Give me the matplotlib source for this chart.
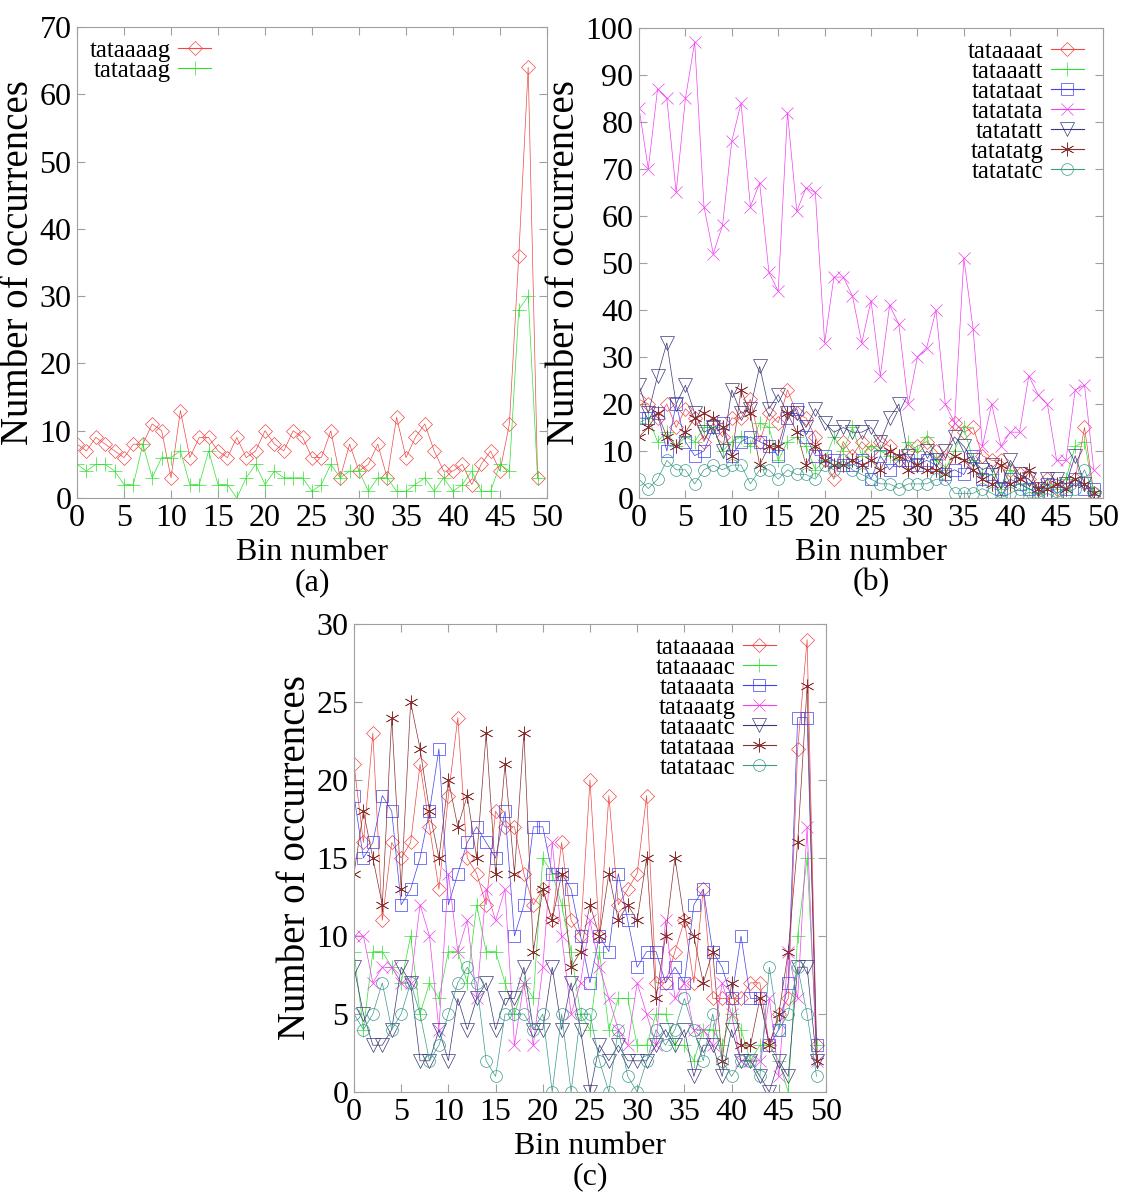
import numpy as np
import matplotlib
matplotlib.use("Agg")
import matplotlib.pyplot as plt

plt.rcParams["font.family"] = ["Liberation Serif", "DejaVu Serif"]

# panel (a)
a_labels = ["tataaaag", "tatataag"]
a_tataaaag = [8, 7, 9, 8, 7, 6, 8, 8, 11, 10, 3, 13, 6, 9, 9, 7, 6, 9, 6, 7,
              10, 8, 7, 10, 9, 6, 6, 10, 3, 8, 4, 5, 8, 3, 12, 6, 9, 11, 7, 4,
              4, 5, 2, 5, 7, 4, 11, 36, 64, 3]
a_tatataag = [5, 4, 5, 5, 4, 2, 2, 8, 3, 6, 6, 7, 2, 2, 7, 2, 2, 0, 3, 5,
              2, 4, 3, 3, 3, 1, 2, 5, 3, 4, 4, 1, 3, 3, 1, 1, 2, 3, 1, 3,
              1, 2, 4, 1, 1, 5, 4, 28, 30, 3]

# panel (b)
b_labels = ["tataaaat", "tataaatt", "tatataat", "tatatata", "tatatatt", "tatatatg", "tatatatc"]
b_tataaaat = [21, 20, 17, 20, 15, 19, 17, 12, 16, 13, 17, 17, 21, 12, 18, 16, 23, 18, 17, 13,
              8, 4, 12, 9, 12, 10, 12, 11, 8, 10, 11, 12, 10, 8, 16, 14, 15, 9, 8, 8,
              6, 5, 4, 2, 4, 2, 3, 4, 15, 1]
b_tataaatt = [16, 17, 12, 14, 11, 13, 12, 15, 15, 10, 12, 13, 11, 16, 15, 8, 12, 13, 11, 6,
              8, 13, 10, 15, 9, 11, 10, 9, 8, 12, 10, 13, 8, 6, 10, 15, 8, 5, 5, 2,
              6, 3, 2, 1, 3, 2, 4, 11, 12, 1]
b_tatataat = [17, 17, 18, 10, 20, 12, 9, 10, 15, 16, 9, 12, 13, 12, 11, 9, 17, 19, 13, 9,
              9, 8, 7, 7, 8, 4, 9, 6, 8, 8, 7, 8, 7, 5, 6, 5, 9, 4, 5, 2,
              4, 3, 2, 1, 3, 1, 2, 4, 2, 2]
b_tatatata = [83, 70, 87, 85, 65, 85, 97, 62, 52, 58, 76, 84, 62, 67, 48, 44, 82, 61, 66, 65,
              33, 47, 47, 43, 33, 42, 26, 41, 37, 20, 30, 32, 40, 20, 16, 51, 36, 11, 20, 11,
              14, 14, 26, 22, 20, 8, 8, 23, 24, 6]
b_tatatatt = [24, 18, 26, 33, 20, 24, 18, 14, 15, 10, 23, 18, 19, 28, 19, 22, 18, 18, 15, 19,
              16, 14, 15, 14, 14, 15, 12, 17, 20, 9, 7, 10, 8, 10, 13, 11, 8, 6, 7, 2,
              8, 5, 4, 2, 4, 4, 3, 9, 3, 0]
b_tatatatg = [13, 15, 18, 13, 11, 14, 17, 18, 17, 15, 9, 23, 18, 7, 11, 11, 18, 14, 7, 11,
              8, 7, 7, 8, 7, 8, 6, 10, 9, 6, 7, 6, 6, 5, 9, 8, 6, 4, 3, 7,
              3, 4, 6, 2, 2, 3, 2, 4, 3, 1]
b_tatatatc = [4, 2, 4, 8, 6, 6, 3, 6, 7, 6, 7, 7, 3, 6, 6, 4, 6, 5, 5, 4,
              7, 6, 8, 6, 5, 4, 3, 3, 2, 3, 3, 3, 4, 4, 1, 1, 1, 2, 1, 0,
              1, 2, 0, 0, 1, 0, 1, 2, 6, 1]

# panel (c)
c_labels = ["tataaaaa", "tataaaac", "tataaata", "tataaatg", "tataaatc", "tatataaa", "tatataac"]
c_tataaaaa = [21, 16, 23, 11, 16, 15, 16, 21, 17, 13, 19, 24, 15, 14, 12, 18, 17, 17, 14, 12,
              13, 11, 16, 11, 10, 20, 10, 19, 12, 13, 14, 19, 7, 7, 9, 11, 7, 13, 6, 6,
              6, 6, 7, 7, 3, 5, 6, 22, 29, 3]
c_tataaaac = [9, 4, 9, 9, 8, 7, 10, 5, 7, 6, 9, 9, 7, 12, 9, 9, 7, 5, 7, 6,
              15, 14, 12, 9, 5, 4, 9, 4, 6, 6, 3, 3, 5, 5, 3, 3, 2, 4, 4, 3,
              5, 4, 2, 3, 3, 2, 0, 10, 15, 3]
c_tataaata = [19, 15, 16, 19, 18, 12, 13, 15, 18, 22, 12, 14, 16, 17, 16, 15, 18, 10, 12, 17,
              17, 14, 14, 13, 10, 7, 10, 9, 14, 11, 8, 9, 9, 7, 8, 7, 12, 13, 9, 8,
              6, 10, 6, 6, 3, 4, 7, 24, 24, 3]
c_tataaatg = [10, 10, 7, 8, 8, 7, 7, 12, 10, 4, 14, 9, 11, 6, 13, 11, 13, 3, 7, 3,
              8, 16, 10, 5, 7, 11, 8, 6, 4, 3, 7, 5, 3, 11, 6, 7, 4, 4, 3, 7,
              5, 2, 2, 2, 6, 1, 9, 6, 17, 2]
c_tataaatc = [8, 5, 3, 3, 4, 8, 7, 2, 2, 4, 2, 6, 4, 6, 7, 4, 6, 6, 8, 4,
              4, 8, 4, 7, 4, 0, 3, 2, 3, 2, 2, 2, 3, 4, 3, 4, 1, 3, 3, 1,
              4, 2, 2, 1, 0, 2, 1, 8, 8, 2]
c_tatataaa = [14, 18, 15, 12, 24, 13, 25, 22, 18, 15, 20, 17, 19, 15, 23, 14, 21, 14, 23, 9,
              13, 11, 14, 8, 9, 12, 10, 14, 11, 12, 11, 15, 6, 10, 15, 11, 10, 7, 9, 2,
              7, 3, 3, 6, 3, 5, 9, 16, 26, 2]
c_tatataac = [5, 4, 5, 7, 4, 5, 7, 5, 2, 3, 5, 7, 8, 7, 2, 1, 5, 5, 5, 4,
              5, 0, 5, 0, 5, 5, 2, 0, 4, 1, 0, 2, 4, 3, 4, 6, 4, 2, 5, 2,
              1, 2, 2, 1, 8, 4, 5, 8, 5, 1]

# gnuplot-ish line types
styles = [
    dict(color="#f04848", marker="D", ms=7.5, mfc="none"),
    dict(color="#30e030", marker="+", ms=10),
    dict(color="#4040f0", marker="s", ms=8.5, mfc="none"),
    dict(color="#f040f0", marker="x", ms=9),
    dict(color="#383878", marker="v", ms=10, mfc="none"),
    dict(color="#8a3030", marker=(6, 2, 0), ms=10),
    dict(color="#3a9a8a", marker="o", ms=8.5, mfc="none"),
]


def panel(ax, series, labels, ymax, ystep, legend_loc, anchor, tag):
    for i, (y, lab) in enumerate(zip(series, labels)):
        st = styles[i]
        ax.plot(range(len(y)), y, label=lab, lw=0.5, mew=0.5, **st)
    ax.set_xlim(0, 50)
    ax.set_ylim(0, ymax)
    ax.set_xticks(range(0, 51, 5))
    ax.set_yticks(range(0, ymax + 1, ystep))
    for s in ax.spines.values():
        s.set_color("#a0a0a0")
        s.set_linewidth(0.8)
    ax.tick_params(direction="in", top=True, right=True, color="#a0a0a0",
                   length=6, width=0.8, labelsize=23, pad=4)
    ax.set_xlabel("Bin number", fontsize=23, labelpad=4)
    ax.set_ylabel("Number of occurrences", fontsize=28, labelpad=2)
    leg = ax.legend(loc=legend_loc, bbox_to_anchor=anchor, frameon=False,
                    markerfirst=False, fontsize=18, labelspacing=-0.1,
                    handlelength=1.3, handletextpad=0.3, borderaxespad=0.1)
    for h in leg.get_lines():
        h.set_linewidth(0.8)
    ax.text(0.5, -0.18, tag, transform=ax.transAxes, ha="center", va="center",
            fontsize=23)


fig = plt.figure(figsize=(11.36, 12), dpi=100)
ax_a = fig.add_axes([0.0678, 0.585, 0.4137, 0.3925])
ax_b = fig.add_axes([0.5625, 0.585, 0.4085, 0.3917])
ax_c = fig.add_axes([0.3116, 0.09, 0.4155, 0.39])

panel(ax_a, [a_tataaaag, a_tatataag], a_labels, 70, 10,
      "upper left", (0.0, 1.0), "(a)")
panel(ax_b, [b_tataaaat, b_tataaatt, b_tatataat, b_tatatata, b_tatatatt,
             b_tatatatg, b_tatatatc], b_labels, 100, 10,
      "upper right", (0.985, 1.0), "(b)")
panel(ax_c, [c_tataaaaa, c_tataaaac, c_tataaata, c_tataaatg, c_tataaatc,
             c_tatataaa, c_tatataac], c_labels, 30, 5,
      "upper right", (0.92, 1.0), "(c)")

fig.savefig("out.png", dpi=100)
